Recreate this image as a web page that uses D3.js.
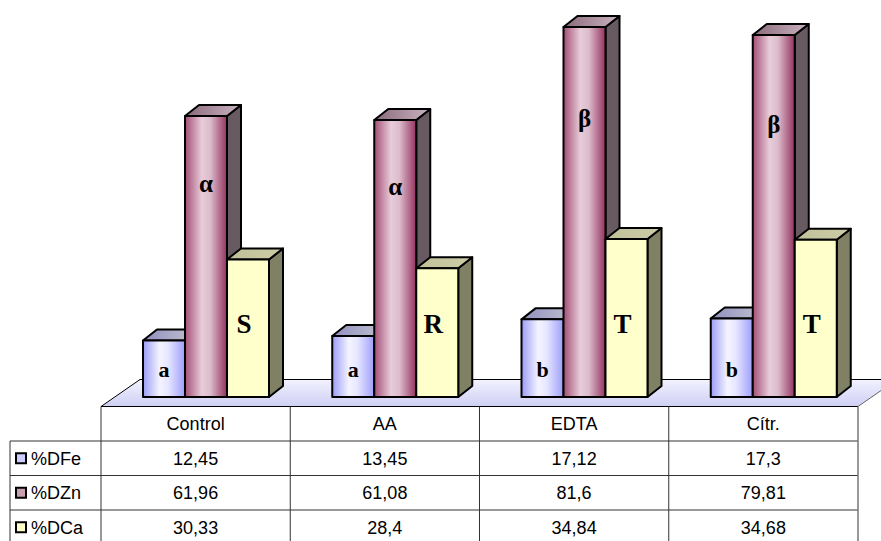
<!DOCTYPE html>
<html>
<head>
<meta charset="utf-8">
<script src="https://cdn.jsdelivr.net/npm/d3@7"></script>
<style>
  body { margin: 0; background: #fff; }
  svg { display: block; }
</style>
</head>
<body>
<div id="chart"></div>
<script>
// data
var categories = ["Control", "AA", "EDTA", "Cítr."];
var seriesNames = ["%DFe", "%DZn", "%DCa"];
var feValues = [12.45, 13.45, 17.12, 17.3];
var znValues = [61.96, 61.08, 81.6, 79.81];
var caValues = [30.33, 28.4, 34.84, 34.68];
var feText = ["12,45", "13,45", "17,12", "17,3"];
var znText = ["61,96", "61,08", "81,6", "79,81"];
var caText = ["30,33", "28,4", "34,84", "34,68"];
var feLetters = ["a", "a", "b", "b"];
var znLetters = ["α", "α", "β", "β"];
var caLetters = ["S", "R", "T", "T"];

var w = 881, h = 541;
var tableLeft = 101, tableRight = 858, legendLeft = 10;
var headerTop = 406.5, rowH = 34.5;
var depthX = 14, depthY = -11;
var floorDX = 39, floorDY = -27;
var barW = 42, groupOffset = 42;

var series = [
  { name: seriesNames[0], values: feValues, text: feText, letters: feLetters,
    key: "fe", side: "#76769e", legend: "#ccccff" },
  { name: seriesNames[1], values: znValues, text: znText, letters: znLetters,
    key: "zn", side: "#675a61", legend: "#c8a0b0" },
  { name: seriesNames[2], values: caValues, text: caText, letters: caLetters,
    key: "ca", side: "#808064", legend: "#ffffcc" }
];

var svg = d3.select("#chart").append("svg")
  .attr("width", w)
  .attr("height", h);

var defs = svg.append("defs");
function hGrad(id, stops) {
  var g = defs.append("linearGradient").attr("id", id)
    .attr("x1", "0%").attr("x2", "100%").attr("y1", "0%").attr("y2", "0%");
  stops.forEach(function(s) {
    g.append("stop").attr("offset", s[0]).attr("stop-color", s[1]);
  });
}
hGrad("front-fe", [["0%", "#9c9cf6"], ["40%", "#f4f4ff"], ["60%", "#e6e6ff"], ["100%", "#9e9efc"]]);
hGrad("front-zn", [["0%", "#a24e74"], ["40%", "#e8ccda"], ["60%", "#dcbccc"], ["100%", "#94325e"]]);
hGrad("front-ca", [["0%", "#ffffcc"], ["100%", "#ffffcc"]]);
hGrad("top-fe", [["0%", "#9090c0"], ["100%", "#c4c4d0"]]);
hGrad("top-zn", [["0%", "#8a6a7c"], ["100%", "#cbb3c0"]]);
hGrad("top-ca", [["0%", "#c0c098"], ["100%", "#cccca8"]]);

var fg = defs.append("linearGradient").attr("id", "floor")
  .attr("x1", "0%").attr("x2", "0%").attr("y1", "0%").attr("y2", "100%");
fg.append("stop").attr("offset", "0%").attr("stop-color", "#f2f2ff");
fg.append("stop").attr("offset", "100%").attr("stop-color", "#cfcff4");

// scales
var x = d3.scaleBand()
  .domain(categories)
  .range([tableLeft, tableRight])
  .padding(0);
var xs = d3.scaleBand()
  .domain(seriesNames)
  .range([0, barW * 3]);
var y = d3.scaleLinear()
  .domain([0, 80])
  .range([397, 397 - 80 * 4.535]);

/****** floor ******/
var fl = svg.append("g");
fl.append("path")
  .attr("d", "M" + tableLeft + "," + headerTop +
    "L" + tableRight + "," + headerTop +
    "L" + (tableRight + floorDX) + "," + (headerTop + floorDY) +
    "L" + (tableLeft + floorDX) + "," + (headerTop + floorDY) + "Z")
  .attr("fill", "url(#floor)");
fl.append("line")
  .attr("x1", tableLeft + floorDX).attr("y1", headerTop + floorDY)
  .attr("x2", w).attr("y2", headerTop + floorDY)
  .attr("stroke", "#000").attr("stroke-width", 1);
fl.append("line")
  .attr("x1", tableLeft).attr("y1", headerTop)
  .attr("x2", tableLeft + floorDX).attr("y2", headerTop + floorDY)
  .attr("stroke", "#000").attr("stroke-width", 1);
fl.append("line")
  .attr("x1", tableRight).attr("y1", headerTop)
  .attr("x2", tableRight + floorDX).attr("y2", headerTop + floorDY)
  .attr("stroke", "#666").attr("stroke-width", 1);

/****** 3d bars ******/
var bars = svg.append("g");
categories.forEach(function(cat, ci) {
  series.forEach(function(s) {
    var v = s.values[ci];
    var x0 = x(cat) + groupOffset + xs(s.name);
    var x1 = x0 + xs.bandwidth();
    var yt = y(v), yb = y(0);
    var g = bars.append("g")
      .attr("stroke", "#000")
      .attr("stroke-width", 2)
      .attr("stroke-linejoin", "round");
    // side
    g.append("path")
      .attr("d", "M" + x1 + "," + yb + "L" + (x1 + depthX) + "," + (yb + depthY) +
        "L" + (x1 + depthX) + "," + (yt + depthY) + "L" + x1 + "," + yt + "Z")
      .attr("fill", s.side);
    // top
    g.append("path")
      .attr("d", "M" + x0 + "," + yt + "L" + x1 + "," + yt +
        "L" + (x1 + depthX) + "," + (yt + depthY) + "L" + (x0 + depthX) + "," + (yt + depthY) + "Z")
      .attr("fill", "url(#top-" + s.key + ")");
    // front
    g.append("rect")
      .attr("x", x0).attr("y", yt)
      .attr("width", x1 - x0).attr("height", yb - yt)
      .attr("fill", "url(#front-" + s.key + ")");
  });
  // letters on bars
  series.forEach(function(s, si) {
    var v = s.values[ci];
    var cx = x(cat) + groupOffset + xs(s.name) + xs.bandwidth() / 2;
    var ty;
    if (si == 0) {
      ty = y(0) - 20;
    } else if (si == 1) {
      ty = y(v) + (y(0) - y(v)) * 0.27;
    } else {
      ty = y(0) - 64;
    }
    bars.append("text")
      .text(s.letters[ci])
      .attr("x", si == 2 ? cx - 4 : cx)
      .attr("y", ty)
      .attr("text-anchor", "middle")
      .attr("font-family", "'Liberation Serif', 'DejaVu Serif', serif")
      .attr("font-weight", "bold")
      .attr("font-size", si == 2 ? "27px" : (si == 1 ? "25px" : "22px"))
      .attr("fill", "#000");
  });
});

/****** data table ******/
var tbl = svg.append("g")
  .attr("font-family", "'Liberation Sans', Arial, sans-serif")
  .attr("font-size", "18px")
  .attr("fill", "#000");
var lineCol = "#333";
// horizontal lines
tbl.append("line")
  .attr("x1", tableLeft).attr("x2", tableRight)
  .attr("y1", headerTop).attr("y2", headerTop)
  .attr("stroke", "#000").attr("stroke-width", 1);
for (var r = 1; r <= 4; r++) {
  tbl.append("line")
    .attr("x1", legendLeft).attr("x2", tableRight)
    .attr("y1", headerTop + r * rowH).attr("y2", headerTop + r * rowH)
    .attr("stroke", lineCol).attr("stroke-width", 1);
}
// vertical lines
tbl.append("line")
  .attr("x1", legendLeft).attr("x2", legendLeft)
  .attr("y1", headerTop + rowH).attr("y2", h)
  .attr("stroke", lineCol).attr("stroke-width", 1);
x.domain().forEach(function(c) {
  tbl.append("line")
    .attr("x1", x(c)).attr("x2", x(c))
    .attr("y1", headerTop).attr("y2", h)
    .attr("stroke", lineCol).attr("stroke-width", 1);
});
tbl.append("line")
  .attr("x1", tableRight).attr("x2", tableRight)
  .attr("y1", headerTop).attr("y2", h)
  .attr("stroke", "#777").attr("stroke-width", 1.5);

// header
tbl.selectAll("text.cat")
  .data(categories)
  .enter()
  .append("text")
  .attr("class", "cat")
  .attr("x", function(d) { return x(d) + x.bandwidth() / 2; })
  .attr("y", headerTop + rowH / 2)
  .attr("dy", "0.35em")
  .attr("text-anchor", "middle")
  .text(function(d) { return d; });

// rows
series.forEach(function(s, si) {
  var ry = headerTop + (si + 1) * rowH;
  tbl.append("rect")
    .attr("x", 16).attr("y", ry + rowH / 2 - 5)
    .attr("width", 10).attr("height", 10)
    .attr("fill", s.legend)
    .attr("stroke", "#000")
    .attr("stroke-width", 2);
  tbl.append("text")
    .attr("x", 31)
    .attr("y", ry + rowH / 2)
    .attr("dy", "0.35em")
    .text(s.name);
  tbl.selectAll("text.v" + si)
    .data(s.text)
    .enter()
    .append("text")
    .attr("class", "v" + si)
    .attr("x", function(d, i) { return x(categories[i]) + x.bandwidth() / 2; })
    .attr("y", ry + rowH / 2)
    .attr("dy", "0.35em")
    .attr("text-anchor", "middle")
    .text(function(d) { return d; });
});
</script>
</body>
</html>
